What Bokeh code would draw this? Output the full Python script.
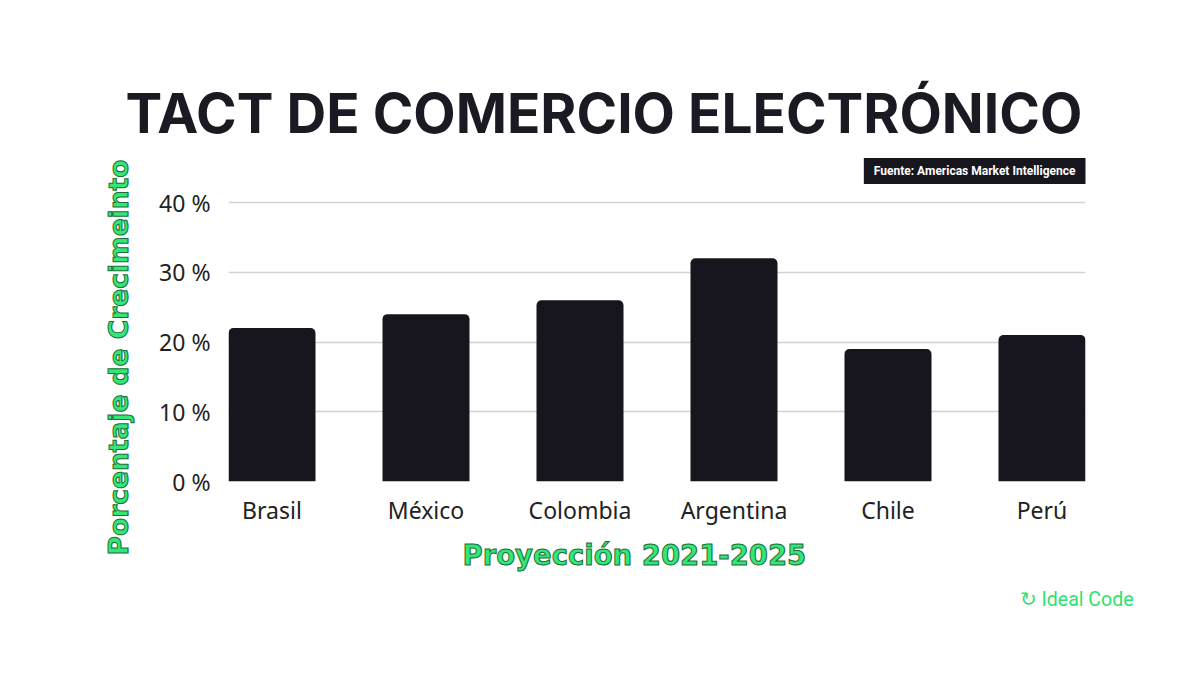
from bokeh.plotting import figure
from bokeh.models import Range1d, FixedTicker, Title
from bokeh.embed import file_html
from bokeh.resources import INLINE

categories = ["Brasil", "México", "Colombia", "Argentina", "Chile", "Perú"]
growth = [22, 24, 26, 32, 19, 21]
y_ticks = [0, 10, 20, 30, 40]
y_tick_labels = ["0 %", "10 %", "20 %", "30 %", "40 %"]

W, H = 1184, 659
idx = list(range(len(categories)))

p = figure(width=W, height=H, output_backend="svg", toolbar_location=None,
           x_range=Range1d(-0.2825, len(categories) - 1 + 0.2825),
           y_range=Range1d(0, 40.3),
           min_border_left=228, min_border_right=W - 1085,
           min_border_top=200, min_border_bottom=H - 481)
p.background_fill_color = "white"
p.border_fill_color = "white"
p.outline_line_color = None

p.vbar(x=idx, top=growth, width=0.565, bottom=0, fill_color="#17161e",
       line_color=None, border_radius=(5, 5, 0, 0))

p.xgrid.grid_line_color = None
p.ygrid.grid_line_color = "#d2d2d2"
p.ygrid.grid_line_width = 1.5
p.ygrid.ticker = FixedTicker(ticks=y_ticks)

p.xaxis.ticker = FixedTicker(ticks=idx)
p.xaxis.major_label_overrides = {i: c for i, c in zip(idx, categories)}
p.yaxis.ticker = FixedTicker(ticks=y_ticks)
p.yaxis.major_label_overrides = {t: l for t, l in zip(y_ticks, y_tick_labels)}
for ax in (p.xaxis, p.yaxis):
    ax.axis_line_color = None
    ax.major_tick_line_color = None
    ax.minor_tick_line_color = None
    ax.major_label_text_font = "Noto Sans"
    ax.major_label_text_font_size = "23px"
    ax.major_label_text_color = "#222222"
p.xaxis.major_label_standoff = 6
p.yaxis.major_label_standoff = 12

green = "#33e676"
outline = "#1c6e3a"

# above: source box (nearest the frame), then main title
p.add_layout(Title(text="Fuente: Americas Market Intelligence", align="right",
                   text_font="Roboto", text_font_style="bold",
                   text_font_size="12px", text_color="white",
                   background_fill_color="#17161e", padding=(10, 6),
                   standoff=33), "above")
p.add_layout(Title(text="TACT DE COMERCIO ELECTRÓNICO", align="left",
                   offset=-103, text_font="Inter", text_font_style="bold",
                   text_font_size="55px", text_color="#1a1a22",
                   standoff=-12), "above")

# left: y label
p.add_layout(Title(text="Porcentaje de Crecimeinto", align="left",
                   offset=-74, text_font="DejaVu Sans", text_font_style="bold",
                   text_font_size="26.5px", text_color=green,
                   text_outline_color=outline, standoff=45), "left")

# below: x label, then logo
p.add_layout(Title(text="Proyección 2021-2025", align="left", offset=234,
                   text_font="DejaVu Sans", text_font_style="bold",
                   text_font_size="27.5px", text_color=green,
                   text_outline_color=outline, standoff=17), "below")
p.add_layout(Title(text="↻ Ideal Code", align="right", offset=-48,
                   text_font="Roboto", text_font_style="normal",
                   text_font_size="19.5px", text_color="#2ee26e",
                   standoff=12), "below")

open("out.html", "w").write(file_html(p, INLINE))
